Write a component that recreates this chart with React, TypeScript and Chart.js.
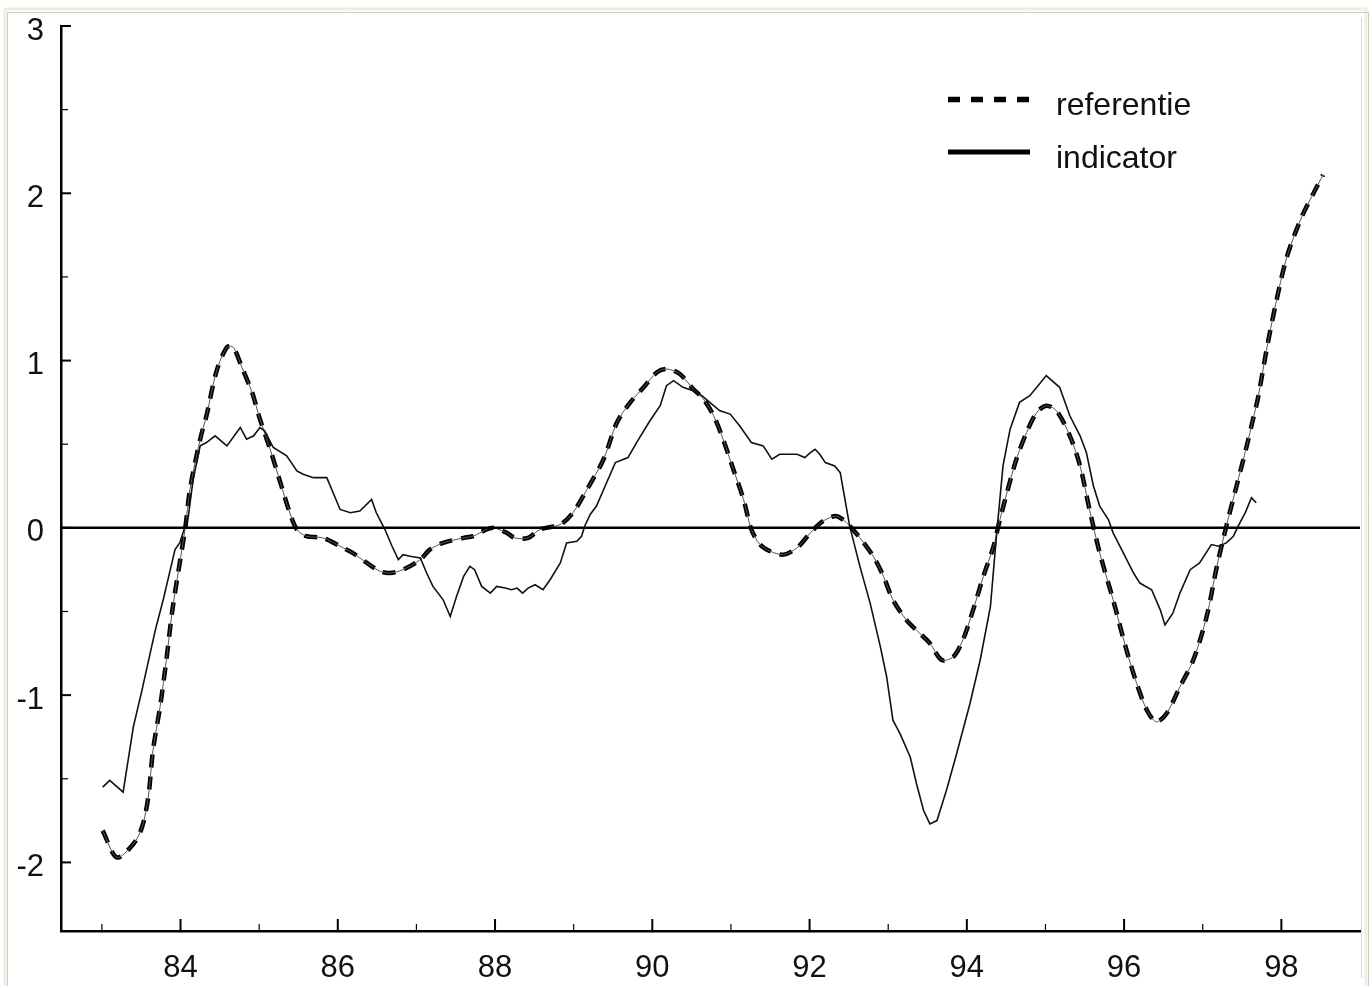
import React, { useEffect, useRef } from "react";
import { Chart, registerables } from "chart.js";

Chart.register(...registerables);

// ---- data (years as 19xx shorthand, values in standard deviations) ----
const refYears = [
  83.01, 83.19, 83.4, 83.51, 83.59, 83.65, 83.74, 83.82, 83.9, 84.06, 84.12, 84.25, 84.33, 84.46, 84.59, 84.67,
  84.78, 84.91, 85.01, 85.14, 85.27, 85.39, 85.48, 85.6, 85.81, 86.03, 86.19, 86.37, 86.54, 86.66, 86.83, 87.05,
  87.17, 87.34, 87.6, 87.72, 87.89, 87.98, 88.15, 88.25, 88.42, 88.57, 88.83, 88.99, 89.17, 89.38, 89.55, 89.72,
  89.89, 90.06, 90.18, 90.35, 90.52, 90.65, 90.78, 90.9, 91.03, 91.16, 91.26, 91.37, 91.5, 91.67, 91.84, 92.01,
  92.17, 92.34, 92.47, 92.64, 92.81, 92.94, 93.06, 93.23, 93.4, 93.53, 93.68, 93.83, 93.95, 94.08, 94.21, 94.34,
  94.4, 94.51, 94.63, 94.76, 94.89, 95.01, 95.14, 95.31, 95.44, 95.56, 95.69, 95.86, 96.03, 96.16, 96.29, 96.41,
  96.54, 96.71, 96.88, 97.05, 97.18, 97.3, 97.43, 97.56, 97.64, 97.7, 97.81, 97.92, 98.07, 98.26, 98.43, 98.53,
];
const refValues = [
  -1.81, -1.97, -1.89, -1.79, -1.61, -1.33, -1.07, -0.79, -0.48, 0.0, 0.23, 0.53, 0.67, 0.94, 1.08, 1.08,
  0.96, 0.81, 0.65, 0.47, 0.27, 0.09, -0.01, -0.05, -0.06, -0.11, -0.15, -0.21, -0.26, -0.27, -0.25, -0.19,
  -0.13, -0.09, -0.06, -0.05, -0.01, 0.0, -0.03, -0.06, -0.06, -0.01, 0.02, 0.09, 0.23, 0.41, 0.63, 0.75,
  0.84, 0.93, 0.95, 0.92, 0.83, 0.77, 0.67, 0.53, 0.35, 0.17, -0.01, -0.1, -0.14, -0.16, -0.12, -0.03,
  0.04, 0.07, 0.03, -0.06, -0.17, -0.29, -0.43, -0.55, -0.63, -0.69, -0.79, -0.77, -0.67, -0.49, -0.29, -0.11,
  0.01, 0.21, 0.41, 0.57, 0.69, 0.73, 0.7, 0.55, 0.37, 0.11, -0.15, -0.43, -0.73, -0.93, -1.09, -1.16,
  -1.11, -0.95, -0.79, -0.53, -0.23, 0.01, 0.25, 0.49, 0.65, 0.77, 1.06, 1.32, 1.62, 1.86, 2.02, 2.11,
];

const indYears = [
  83.01, 83.1, 83.27, 83.4, 83.51, 83.68, 83.78, 83.87, 83.93, 83.99, 84.1, 84.16, 84.25, 84.33, 84.44, 84.59,
  84.76, 84.84, 84.93, 85.01, 85.07, 85.18, 85.35, 85.48, 85.56, 85.69, 85.86, 86.03, 86.16, 86.28, 86.43, 86.49,
  86.6, 86.69, 86.77, 86.83, 86.92, 87.05, 87.13, 87.21, 87.34, 87.43, 87.51, 87.6, 87.68, 87.74, 87.83, 87.94,
  88.02, 88.13, 88.21, 88.28, 88.35, 88.42, 88.51, 88.61, 88.7, 88.83, 88.91, 89.04, 89.1, 89.14, 89.21, 89.29,
  89.4, 89.53, 89.69, 89.8, 89.97, 90.1, 90.18, 90.27, 90.39, 90.52, 90.63, 90.73, 90.86, 90.99, 91.11, 91.26,
  91.41, 91.52, 91.62, 91.84, 91.94, 92.01, 92.07, 92.13, 92.2, 92.32, 92.39, 92.51, 92.64, 92.77, 92.9, 92.98,
  93.06, 93.15, 93.28, 93.36, 93.45, 93.53, 93.62, 93.74, 93.87, 94.04, 94.17, 94.3, 94.38, 94.46, 94.55, 94.67,
  94.8, 94.89, 95.01, 95.18, 95.31, 95.44, 95.52, 95.61, 95.69, 95.8, 95.86, 95.99, 96.12, 96.2, 96.35, 96.46,
  96.52, 96.62, 96.71, 96.84, 96.96, 97.11, 97.2, 97.3, 97.39, 97.45, 97.54, 97.62, 97.68,
];
const indValues = [
  -1.55, -1.51, -1.58, -1.19, -0.97, -0.61, -0.43, -0.25, -0.13, -0.09, 0.07, 0.29, 0.49, 0.51, 0.55, 0.49,
  0.6, 0.53, 0.55, 0.6, 0.58, 0.48, 0.43, 0.34, 0.32, 0.3, 0.3, 0.11, 0.09, 0.1, 0.17, 0.09,
  -0.01, -0.11, -0.19, -0.16, -0.17, -0.18, -0.27, -0.35, -0.43, -0.53, -0.41, -0.29, -0.23, -0.25, -0.35, -0.39,
  -0.35, -0.36, -0.37, -0.36, -0.39, -0.36, -0.34, -0.37, -0.31, -0.21, -0.09, -0.08, -0.05, 0.01, 0.08, 0.13,
  0.25, 0.39, 0.42, 0.51, 0.64, 0.73, 0.85, 0.88, 0.84, 0.82, 0.79, 0.75, 0.7, 0.68, 0.61, 0.51,
  0.49, 0.41, 0.44, 0.44, 0.42, 0.45, 0.47, 0.44, 0.39, 0.37, 0.33, 0.01, -0.23, -0.45, -0.71, -0.89,
  -1.15, -1.23, -1.37, -1.53, -1.69, -1.77, -1.75, -1.57, -1.35, -1.05, -0.79, -0.47, -0.03, 0.37, 0.59, 0.75,
  0.79, 0.84, 0.91, 0.84, 0.67, 0.55, 0.45, 0.25, 0.13, 0.05, -0.03, -0.15, -0.27, -0.33, -0.37, -0.49,
  -0.58, -0.51, -0.39, -0.25, -0.21, -0.1, -0.11, -0.09, -0.05, 0.01, 0.09, 0.18, 0.15,
];

const xTickValues = [84, 86, 88, 90, 92, 94, 96, 98];
const xMinorValues = [83, 85, 87, 89, 91, 93, 95, 97];
const yTickValues = [-2, -1, 0, 1, 2, 3];
const yMinorValues = [-1.5, -0.5, 0.5, 1.5, 2.5];
const legendLabels = ["referentie", "indicator"];

const X_MIN = 82.48;
const X_MAX = 99.0;
const Y_MIN = -2.41;
const Y_MAX = 3;

const FONT = "'Liberation Sans', Arial, sans-serif";

const framePlugin = {
  id: "frame",
  beforeDraw(chart: any) {
    const ctx = chart.ctx;
    ctx.save();
    ctx.fillStyle = "#ffffff";
    ctx.fillRect(0, 0, chart.width, chart.height);
    ctx.strokeStyle = "#f1eddf";
    ctx.lineWidth = 3;
    ctx.beginPath();
    ctx.moveTo(5, 986);
    ctx.lineTo(5, 9);
    ctx.lineTo(1366, 9);
    ctx.lineTo(1366, 986);
    ctx.stroke();
    ctx.strokeStyle = "#cfcbbf";
    ctx.lineWidth = 1;
    ctx.beginPath();
    ctx.moveTo(7.5, 986);
    ctx.lineTo(7.5, 12.5);
    ctx.lineTo(1368.5, 12.5);
    ctx.lineTo(1368.5, 986);
    ctx.stroke();
    ctx.strokeStyle = "#d8d8d8";
    ctx.beginPath();
    ctx.moveTo(1361.5, 18);
    ctx.lineTo(1361.5, 978);
    ctx.stroke();
    ctx.restore();
  },
};

const decorPlugin = {
  id: "decor",
  afterDatasetsDraw(chart: any) {
    const ctx = chart.ctx;
    const { left, right, bottom } = chart.chartArea;
    const xs = chart.scales.x;
    const ys = chart.scales.y;
    ctx.save();
    ctx.strokeStyle = "#000";
    // zero line
    ctx.lineWidth = 2.5;
    const y0 = ys.getPixelForValue(0);
    ctx.beginPath();
    ctx.moveTo(left, y0);
    ctx.lineTo(right, y0);
    ctx.stroke();
    // inward ticks
    ctx.lineWidth = 2;
    yTickValues.forEach((v) => {
      const y = ys.getPixelForValue(v);
      ctx.beginPath();
      ctx.moveTo(left, y);
      ctx.lineTo(left + 10, y);
      ctx.stroke();
    });
    ctx.lineWidth = 1.2;
    yMinorValues.forEach((v) => {
      const y = ys.getPixelForValue(v);
      ctx.beginPath();
      ctx.moveTo(left, y);
      ctx.lineTo(left + 7, y);
      ctx.stroke();
    });
    ctx.lineWidth = 2;
    xTickValues.forEach((v) => {
      const x = xs.getPixelForValue(v);
      ctx.beginPath();
      ctx.moveTo(x, bottom);
      ctx.lineTo(x, bottom - 12);
      ctx.stroke();
    });
    ctx.lineWidth = 1.2;
    xMinorValues.forEach((v) => {
      const x = xs.getPixelForValue(v);
      ctx.beginPath();
      ctx.moveTo(x, bottom);
      ctx.lineTo(x, bottom - 7);
      ctx.stroke();
    });
    // legend
    ctx.lineCap = "butt";
    ctx.lineWidth = 5.5;
    ctx.setLineDash([12, 11]);
    ctx.beginPath();
    ctx.moveTo(948, 99.5);
    ctx.lineTo(1032, 99.5);
    ctx.stroke();
    ctx.setLineDash([]);
    ctx.lineWidth = 5;
    ctx.beginPath();
    ctx.moveTo(948, 152);
    ctx.lineTo(1030, 152);
    ctx.stroke();
    ctx.fillStyle = "#111";
    ctx.font = `32px ${FONT}`;
    ctx.textBaseline = "alphabetic";
    ctx.textAlign = "left";
    ctx.fillText(legendLabels[0], 1056, 115);
    ctx.fillText(legendLabels[1], 1056, 168);
    ctx.restore();
  },
};

export default function App() {
  const ref = useRef<HTMLCanvasElement | null>(null);
  useEffect(() => {
    if (!ref.current) return;
    const refPts = refYears.map((x, i) => ({ x, y: refValues[i] }));
    const indPts = indYears.map((x, i) => ({ x, y: indValues[i] }));
    const chart = new Chart(ref.current, {
      type: "line",
      data: {
        datasets: [
          {
            label: legendLabels[1],
            data: indPts,
            borderColor: "#111",
            borderWidth: 1.6,
            pointRadius: 0,
            tension: 0,
          },
          {
            label: legendLabels[0] + " (lijn)",
            data: refPts,
            borderColor: "#555",
            borderWidth: 1,
            pointRadius: 0,
            tension: 0.3,
          },
          {
            label: legendLabels[0],
            data: refPts,
            borderColor: "#000",
            borderWidth: 4.5,
            borderDash: [13, 9],
            pointRadius: 0,
            tension: 0.3,
          },
        ],
      },
      options: {
        animation: false,
        responsive: false,
        maintainAspectRatio: false,
        layout: { padding: { top: 26, right: 12, left: 0, bottom: 0 } },
        plugins: { legend: { display: false }, tooltip: { enabled: false } },
        scales: {
          x: {
            type: "linear",
            min: X_MIN,
            max: X_MAX,
            grid: { display: false, drawTicks: false },
            border: { display: true, color: "#000", width: 2.5 },
            afterBuildTicks: (s: any) => {
              s.ticks = xTickValues.map((v) => ({ value: v }));
            },
            afterFit: (s: any) => {
              s.height = 57;
              s.paddingLeft = 0;
              s.paddingRight = 0;
            },
            ticks: {
              color: "#111",
              font: { family: FONT, size: 31 },
              padding: 19,
              maxRotation: 0,
              autoSkip: false,
              callback: (v: any) => String(v),
            },
          },
          y: {
            type: "linear",
            min: Y_MIN,
            max: Y_MAX,
            grid: { display: false, drawTicks: false },
            border: { display: true, color: "#000", width: 2.5 },
            afterBuildTicks: (s: any) => {
              s.ticks = yTickValues.map((v) => ({ value: v }));
            },
            afterFit: (s: any) => {
              s.width = 61;
              s.paddingTop = 0;
              s.paddingBottom = 0;
            },
            ticks: {
              color: "#111",
              font: { family: FONT, size: 31 },
              padding: 17,
              labelOffset: 5,
              autoSkip: false,
              callback: (v: any) => String(v),
            },
          },
        },
      },
      plugins: [framePlugin, decorPlugin],
    });
    return () => chart.destroy();
  }, []);
  return (
    <div style={{ position: "absolute", left: 0, top: 0, width: 1372, height: 988, background: "#fff" }}>
      <canvas ref={ref} width={1372} height={988} style={{ display: "block" }} />
    </div>
  );
}
